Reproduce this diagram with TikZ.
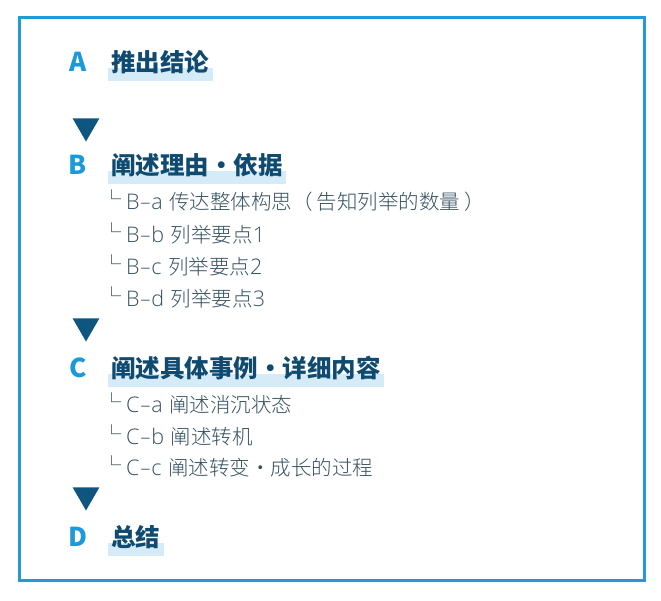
\documentclass[tikz,border=0pt]{standalone}
\usepackage{fontspec}
\setmainfont{Noto Sans CJK SC}
\newfontfamily\itemcjk{Noto Sans CJK SC}[UprightFont={* Light}]
\newfontfamily\itemlat{Open Sans}[UprightFont={* Light},LetterSpace=4]
\usetikzlibrary{positioning,%
                shapes.geometric,%
                backgrounds}

\definecolor{framecol}{HTML}{2399D6}
\definecolor{lettercol}{HTML}{1A9AD8}
\definecolor{titlecol}{HTML}{0F4A70}
\definecolor{hlcol}{HTML}{D5EBF8}
\definecolor{tricol}{HTML}{0E5680}
\definecolor{itemcol}{HTML}{34505F}

\tikzset{
  letter/.style={text=lettercol,font=\fontsize{26}{30}\selectfont\bfseries,
                 inner sep=0pt,minimum width=20pt},
  title/.style={text=titlecol,font=\fontsize{24.5}{28}\selectfont\bfseries,
                inner sep=0pt},
  item/.style={text=itemcol,font=\fontsize{20.5}{24}\selectfont\itemcjk,
               inner sep=0pt,anchor=west},
  tri/.style={regular polygon,regular polygon sides=3,shape border rotate=180,
              fill=tricol,inner sep=0pt,minimum size=31pt},
  hl/.style={fill=hlcol},
  frame/.style={draw=framecol,line width=3pt}
}
\newcommand{\subl}{\raisebox{3pt}{\fontsize{19}{19}\selectfont └}\hspace{5pt}}
% item label such as B-a, with a long dash
\newcommand{\lab}[2]{{\fontsize{21.5}{24}\selectfont\itemlat #1\scalebox{1.7}[1]{-}#2}\hspace{2pt}}
\newcommand{\lat}[1]{{\fontsize{21.5}{24}\selectfont\itemlat #1}}

\begin{document}
\begin{tikzpicture}[x=1pt,y=-1pt]
  \useasboundingbox (0,0) rectangle (661,600);
  \draw[frame] (19,17) rectangle (644,580);

  \node[letter] (lA) at (78,62) {A};
  \node[letter] (lB) at (78,165) {B};
  \node[letter] (lC) at (78,368) {C};
  \node[letter] (lD) at (78,537) {D};

  \node[title,right=23pt of lA] (tA) {推出结论};
  \node[title,right=23pt of lB] (tB) {阐述理由・依据};
  \node[title,right=23pt of lC] (tC) {阐述具体事例・详细内容};
  \node[title,right=23pt of lD] (tD) {总结};

  \node[tri] (arAB) at (86,126) {};
  \node[tri] (arBC) at (86,326) {};
  \node[tri] (arCD) at (86,495) {};

  \node[item] (Ba) at (102,201) {\subl\lab{B}{a} 传达整体构思（\hspace{4pt}告知列举的数量\hspace{4pt}）};
  \node[item] (Bb) at (102,233) {\subl\lab{B}{b} 列举要点\lat{1}};
  \node[item] (Bc) at (102,265) {\subl\lab{B}{c} 列举要点\lat{2}};
  \node[item] (Bd) at (102,297) {\subl\lab{B}{d} 列举要点\lat{3}};

  \node[item] (Ca) at (102,403) {\subl\lab{C}{a} 阐述消沉状态};
  \node[item] (Cb) at (102,435) {\subl\lab{C}{b} 阐述转机};
  \node[item] (Cc) at (102,466) {\subl\lab{C}{c} 阐述转变・成长的过程};

  % highlight under the titles
  \begin{scope}[on background layer]
    \fill[hl] ([xshift=-3pt,yshift=-6pt]tA.west) rectangle ([xshift=3pt,yshift=-19pt]tA.east);
    \fill[hl] ([xshift=-3pt,yshift=-6pt]tB.west) rectangle ([xshift=3pt,yshift=-19pt]tB.east);
    \fill[hl] ([xshift=-3pt,yshift=-6pt]tC.west) rectangle ([xshift=3pt,yshift=-19pt]tC.east);
    \fill[hl] ([xshift=-3pt,yshift=-6pt]tD.west) rectangle ([xshift=3pt,yshift=-19pt]tD.east);
  \end{scope}
\end{tikzpicture}
\end{document}
